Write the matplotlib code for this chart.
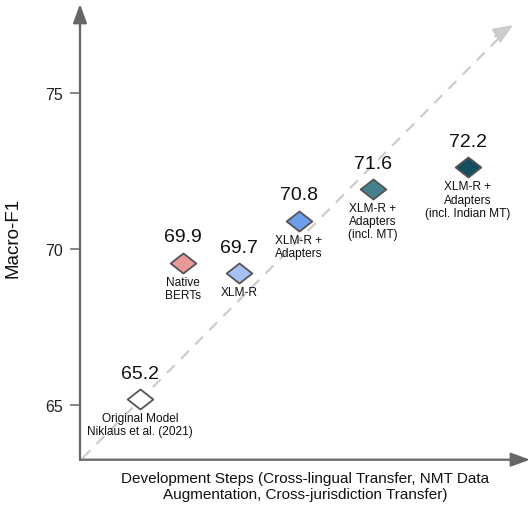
import matplotlib
matplotlib.use("Agg")
import matplotlib.pyplot as plt
from matplotlib.path import Path

plt.rcParams['font.family'] = ['Liberation Sans', 'DejaVu Sans']

# ---- data ----
models = ["Original Model\nNiklaus et al. (2021)", "Native\nBERTs", "XLM-R",
          "XLM-R +\nAdapters", "XLM-R +\nAdapters\n(incl. MT)",
          "XLM-R +\nAdapters\n(incl. Indian MT)"]
scores = [65.2, 69.9, 69.7, 70.8, 71.6, 72.2]
# development step position (x) and plotted height (y)
steps = [1.2, 2.06, 3.18, 4.38, 5.86, 7.76]
marker_y = [65.19, 69.57, 69.23, 70.91, 71.92, 72.62]
colors = ["#ffffff", "#ea9999", "#a4c2f4", "#6d9eeb", "#45818e", "#134f5c"]
yticks = [65, 70, 75]

W, H = 532, 506
fig = plt.figure(figsize=(W / 100, H / 100), dpi=100)
ax = fig.add_axes([80 / W, (H - 460.7) / H, 450 / W, 455.7 / H])
ymin, ymax = 63.245, 77.865
xmin, xmax = 0, 9
ax.set_xlim(xmin, xmax)
ax.set_ylim(ymin, ymax)
for s in ax.spines.values():
    s.set_visible(False)

axis_col = "#666666"
# diagonal dashed trend arrow
ax.plot([0.05, 8.55], [ymin + 0.05, 77.05], color="#cccccc", lw=1.6,
        dashes=(5, 4), clip_on=False, zorder=1)
ax.annotate("", xy=(8.66, 77.19), xytext=(8.3, 76.82),
            arrowprops=dict(arrowstyle="-|>,head_length=0.6,head_width=0.25",
                            color="#cccccc", lw=1.5, mutation_scale=20,
                            shrinkA=0, shrinkB=0), annotation_clip=False)

# axes arrows
ax.annotate("", xy=(0, ymax), xytext=(0, ymin),
            arrowprops=dict(arrowstyle="-|>,head_length=0.55,head_width=0.2",
                            color=axis_col, lw=1.6, mutation_scale=21,
                            shrinkA=0, shrinkB=0), annotation_clip=False, zorder=3)
ax.annotate("", xy=(xmax, ymin), xytext=(0, ymin),
            arrowprops=dict(arrowstyle="-|>,head_length=0.55,head_width=0.2",
                            color=axis_col, lw=1.6, mutation_scale=21,
                            shrinkA=0, shrinkB=0), annotation_clip=False, zorder=3)

# ticks
ax.set_yticks(yticks)
ax.set_yticklabels([str(t) for t in yticks])
ax.tick_params(axis="y", length=7.5, width=1.1, color=axis_col, pad=5,
               labelsize=11.5, labelcolor="#222222")
ax.set_xticks([])

# diamond marker (wider than tall)
diamond = Path([(-1, 0), (0, 0.78), (1, 0), (0, -0.78), (-1, 0)],
               [Path.MOVETO, Path.LINETO, Path.LINETO, Path.LINETO, Path.CLOSEPOLY])

for x, y, sc, name, c in zip(steps, marker_y, scores, models, colors):
    ax.plot(x, y, marker=diamond, markersize=18.5, markerfacecolor=c,
            markeredgecolor="#555555", markeredgewidth=1.3, linestyle="none",
            zorder=5, clip_on=False)
    ax.annotate(f"{sc}", xy=(x, y), xytext=(0, 26), textcoords="offset pixels",
                ha="center", va="center", fontsize=14, color="#111111")
    ax.annotate(name, xy=(x, y), xytext=(0, -13), textcoords="offset pixels",
                ha="center", va="top", fontsize=8.6, color="#111111",
                linespacing=1.12)

ax.set_ylabel("Macro-F1", fontsize=13.5, color="#111111")
ax.yaxis.set_label_coords(-(80 - 22) / 450, (460.7 - 238) / 455.7)
ax.set_xlabel("Development Steps (Cross-lingual Transfer, NMT Data\n"
              "Augmentation, Cross-jurisdiction Transfer)",
              fontsize=11, color="#111111", va="center", linespacing=1.1)
ax.xaxis.set_label_coords((305 - 80) / 450, (460.7 - 487) / 455.7)

fig.savefig("out.png", dpi=100)
